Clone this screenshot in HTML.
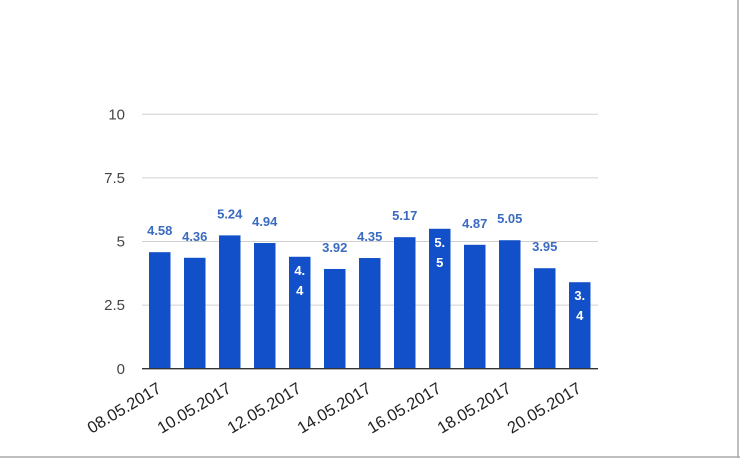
<!DOCTYPE html>
<html><head><meta charset="utf-8"><style>
body{margin:0;background:#fff;}
svg{display:block;font-family:"Liberation Sans",Arial,sans-serif;}
</style></head><body>
<svg width="740" height="458" viewBox="0 0 740 458">
<rect x="0" y="0" width="740" height="458" fill="#fff"/>
<line x1="738" y1="0" x2="738" y2="458" stroke="#aaa" stroke-width="1.5"/>
<line x1="0" y1="457" x2="740" y2="457" stroke="#aaa" stroke-width="1.5"/>
<g stroke="#d0d0d0" stroke-width="1">
<line x1="142" y1="114.3" x2="598" y2="114.3"/>
<line x1="142" y1="177.9" x2="598" y2="177.9"/>
<line x1="142" y1="241.5" x2="598" y2="241.5"/>
<line x1="142" y1="305.1" x2="598" y2="305.1"/>
</g>
<g font-size="15" fill="#444" text-anchor="end">
<text x="125" y="119.5">10</text>
<text x="125" y="183">7.5</text>
<text x="125" y="246.5">5</text>
<text x="125" y="310">2.5</text>
<text x="125" y="374">0</text>
</g>
<g fill="#1150c8" id="bars"></g>
<line x1="142" y1="368.7" x2="598" y2="368.7" stroke="#333" stroke-width="1.3"/>
<g id="lbl" font-size="13" font-weight="bold" text-anchor="middle"></g>
<g id="xl" font-size="16.5" fill="#222" text-anchor="end"></g>
</svg>
<script>
var v=[4.58,4.36,5.24,4.94,4.4,3.92,4.35,5.17,5.5,4.87,5.05,3.95,3.4];
var inside={4:["4.","4"],8:["5.","5"],12:["3.","4"]};
var ns="http://www.w3.org/2000/svg";
var b=document.getElementById("bars"),l=document.getElementById("lbl"),x=document.getElementById("xl");
var d=["08.05.2017","10.05.2017","12.05.2017","14.05.2017","16.05.2017","18.05.2017","20.05.2017"];
v.forEach(function(val,i){
 var left=149+35*i,top=368.7-val*25.44;
 var r=document.createElementNS(ns,"rect");
 r.setAttribute("x",left);r.setAttribute("y",top);r.setAttribute("width",21.5);r.setAttribute("height",368.7-top);
 b.appendChild(r);
 var cx=left+10.75;
 if(inside[i]){
  inside[i].forEach(function(s,j){var t=document.createElementNS(ns,"text");t.setAttribute("x",cx);t.setAttribute("y",top+18+j*20);t.setAttribute("fill","#fff");t.textContent=s;l.appendChild(t);});
 } else {
  var t=document.createElementNS(ns,"text");t.setAttribute("x",cx);t.setAttribute("y",top-17);t.setAttribute("fill","#3a6bc0");t.textContent=val;l.appendChild(t);
 }
 if(i%2==0){
  var t2=document.createElementNS(ns,"text");
  var ex=cx-3,ey=382;
  t2.setAttribute("transform","translate("+ex+","+ey+") rotate(-31)");
  t2.setAttribute("x",0);t2.setAttribute("y",11);
  t2.textContent=d[i/2];x.appendChild(t2);
 }
});
</script>
</body></html>
